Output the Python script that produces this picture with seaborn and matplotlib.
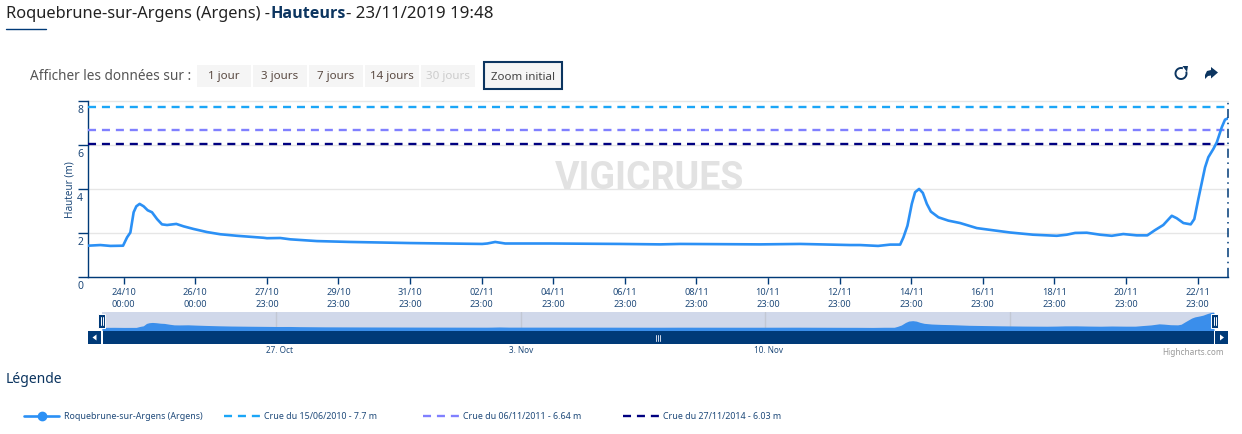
import pandas as pd
import matplotlib
matplotlib.use("Agg")
import matplotlib.pyplot as plt
import matplotlib.transforms as mtrans
from matplotlib.patches import Rectangle, Polygon, Arc
import seaborn as sns

W, H = 1242, 435

# heures depuis le 24/10 00:00 / hauteur en m
hours = [-23.9, -15.6, -8.9, -0.4, 2.3, 4.5, 6.7, 8.5, 10.7, 13.4, 16.1, 19, 22.4, 25.7, 29.1, 35.3,
         40.2, 46.9, 55.9, 64.8, 76, 93.8, 96.1, 105, 111.7, 129.6, 152, 192.2, 240.4, 243.8, 249.1,
         255.8, 286, 332.9, 359.7, 373.1, 426.7, 453.6, 487.1, 493.7, 505.8, 513.9, 520.6, 522.8,
         525.5, 528.4, 530.6, 533.3, 535.8, 538.5, 541.2, 546.3, 552.9, 560.8, 572, 583.1, 594.3,
         609.7, 625.6, 632.3, 637.9, 645.7, 654.6, 662.5, 670.2, 679.2, 686.3, 691.5, 697, 702.7,
         706, 710.5, 715.4, 717.8, 720.5, 725, 727.2, 730.6, 732.9, 736.2, 738.4, 740.4]
heights = [1.40, 1.43, 1.39, 1.40, 1.78, 2.00, 2.92, 3.19, 3.30, 3.19, 3.01, 2.92, 2.61, 2.37, 2.34, 2.39,
           2.28, 2.16, 2.02, 1.92, 1.85, 1.76, 1.74, 1.75, 1.69, 1.61, 1.57, 1.52, 1.48, 1.50, 1.57,
           1.50, 1.50, 1.48, 1.46, 1.48, 1.46, 1.48, 1.43, 1.43, 1.39, 1.45, 1.45, 1.78,
           2.31, 3.30, 3.83, 3.98, 3.80, 3.30, 2.95, 2.69, 2.54, 2.43, 2.20, 2.10, 2.00,
           1.90, 1.85, 1.90, 1.98, 1.99, 1.90, 1.85, 1.93, 1.87, 1.87, 2.11, 2.34, 2.76,
           2.65, 2.43, 2.37, 2.61, 3.52, 4.96, 5.42, 5.80, 6.10, 6.78, 7.13, 7.19]

crue_labels = ["Crue du 15/06/2010 - 7.7 m", "Crue du 06/11/2011 - 6.64 m", "Crue du 27/11/2014 - 6.03 m"]
crue_values = [7.7, 6.64, 6.03]
crue_colors = ["#1ba6f7", "#8080ff", "#000080"]

tick_labels = ["24/10\n00:00", "26/10\n00:00", "27/10\n23:00", "29/10\n23:00", "31/10\n23:00", "02/11\n23:00",
               "04/11\n23:00", "06/11\n23:00", "08/11\n23:00", "10/11\n23:00", "12/11\n23:00", "14/11\n23:00",
               "16/11\n23:00", "18/11\n23:00", "20/11\n23:00", "22/11\n23:00"]
nav_ticks = ["2019-10-28", "2019-11-04", "2019-11-11", "2019-11-18"]
nav_labels = ["27. Oct", "3. Nov", "10. Nov", ""]
buttons = ["1 jour", "3 jours", "7 jours", "14 jours", "30 jours"]

NAVY = "#003a78"
TEXT = "#1f4a7a"
BLUE = "#2b90f5"

sns.set_theme(style="white")
plt.rcParams['font.family'] = ['Noto Sans', 'DejaVu Sans']


def box(left, top, right, bottom):
    return [left / W, 1 - bottom / H, (right - left) / W, (bottom - top) / H]


origin = pd.Timestamp("2019-10-24")
df = pd.DataFrame({"time": origin + pd.to_timedelta(hours, unit="h"), "hauteur": heights})

fig = plt.figure(figsize=(W / 100, H / 100), dpi=100)
ax = fig.add_axes(box(88, 101.5, 1228, 277.5))
nav = fig.add_axes(box(102, 313, 1214, 331))
over = fig.add_axes([0, 0, 1, 1], zorder=5)
over.set_xlim(0, W)
over.set_ylim(H, 0)
over.axis("off")

# graphique principal
for value, color in zip(crue_values, crue_colors):
    ax.axhline(value, color=color, lw=1.7, dashes=(3.4, 2.5), zorder=3)
sns.lineplot(data=df, x="time", y="hauteur", color=BLUE, lw=1.9, estimator=None, ax=ax, zorder=4)
ax.set_xlim(df["time"].iloc[0], df["time"].iloc[-1])
ax.set_ylim(0, 8)
ax.set_yticks([0, 2, 4, 6, 8])
ax.set_xticks(pd.date_range(origin, periods=len(tick_labels), freq="48h"))
ax.set_xticklabels(tick_labels, fontsize=6.6, color=TEXT, linespacing=1.45)
ax.grid(axis="y", color="#e6e6e6", lw=1)
for g in ax.get_ygridlines():
    g.set_clip_on(False)
ax.tick_params(axis="x", length=5, width=1, color=NAVY, pad=2.5, bottom=True)
ax.tick_params(axis="y", length=7, width=1, color=NAVY, labelsize=7.5, labelcolor=TEXT, pad=-3.4, left=True)
shift = mtrans.ScaledTranslation(0, -2.5 / 72, fig.dpi_scale_trans)
for lab in ax.get_yticklabels():
    lab.set_va("top")
    lab.set_transform(lab.get_transform() + shift)
ax.set_xlabel("")
ax.set_ylabel("")
for side in ["top", "right"]:
    ax.spines[side].set_visible(False)
for side in ["left", "bottom"]:
    ax.spines[side].set_color(NAVY)
    ax.spines[side].set_linewidth(1)
ax.axvline(df["time"].iloc[-1], color=NAVY, lw=1.1, ls=(0, (6, 3, 1, 3)), clip_on=False, zorder=5)
ax.text(0.493, 0.56, "VIGICRUES", transform=ax.transAxes, ha="center", va="center", fontsize=27,
        fontweight="bold", color="#e2e2e2", family="Roboto", zorder=1)
over.text(70, 190, "Hauteur (m)", rotation=90, ha="center", va="center", fontsize=7.2, color=TEXT)

# navigateur
nav.set_facecolor("#d0d8ea")
nav.fill_between(df["time"], df["hauteur"], 0, color="#3a8eeb", lw=0)
nav.set_xlim(df["time"].iloc[0], df["time"].iloc[-1])
nav.set_ylim(0.4, 7.3)
nav.set_yticks([])
nav.set_xticks(pd.to_datetime(nav_ticks))
nav.set_xticklabels([])
nav.tick_params(axis="x", length=0)
nav.grid(axis="x", color="#c2c8d4", lw=1)
nav.set_ylabel("")
for s in nav.spines.values():
    s.set_visible(False)
for x, lab in zip([280, 521, 768, 1010], nav_labels):
    over.text(x, 351, lab, ha="center", va="center", fontsize=5.9, color=TEXT)

# barre de defilement
over.add_patch(Rectangle((102.5, 332), 1111.5, 13, color=NAVY, lw=0))
over.add_patch(Rectangle((88, 332), 13.3, 13, color=NAVY, lw=0))
over.add_patch(Rectangle((1215, 332), 13, 13, color=NAVY, lw=0))
over.add_patch(Polygon([(96.5, 335.5), (96.5, 341.5), (92.5, 338.5)], color="white", lw=0))
over.add_patch(Polygon([(1220, 335.5), (1220, 341.5), (1224, 338.5)], color="white", lw=0))
for x in [656, 658, 660]:
    over.plot([x, x], [335.5, 341.5], color="#d0d8ea", lw=0.7)
for x in [98, 1211]:
    over.add_patch(Rectangle((x, 315), 7, 14, facecolor=NAVY, edgecolor="white", lw=0.7, zorder=6))
    for dx in [2.5, 4.5]:
        over.plot([x + dx, x + dx], [318, 326], color="white", lw=0.7, zorder=7)
over.text(1224, 352.5, "Highcharts.com", ha="right", va="center", fontsize=5.9, color="#999999")

# titre
over.text(6, 14, "Roquebrune-sur-Argens (Argens) -", va="center", fontsize=11.8, color="#222222")
over.text(271, 14, "Hauteurs", va="center", fontsize=11.6, fontweight="bold", family="Open Sans", color="#0c3560")
over.text(346, 14, "- 23/11/2019 19:48", va="center", fontsize=12.2, color="#222222")
over.plot([6, 46], [29.5, 29.5], color=NAVY, lw=1)

# boutons
over.text(30, 76.5, "Afficher les données sur :", va="center", fontsize=9.8, color="#555555")
for i, lab in enumerate(buttons):
    left = 197 + i * 56
    over.add_patch(Rectangle((left, 66), 54, 22, color="#f5f5f5", lw=0))
    over.text(left + 27, 77, lab, ha="center", va="center", fontsize=8.3,
              color="#cccccc" if i == 4 else "#5a4a42")
over.add_patch(Rectangle((484, 63), 78, 27, facecolor="#f5f5f5", edgecolor="#0c3560", lw=1.5))
over.text(523, 77, "Zoom initial", ha="center", va="center", fontsize=8.3, color="#444444")

# icones
over.add_patch(Arc((1181, 74.5), 11, 11, theta1=-20, theta2=290, color="#0c3560", lw=1.4))
over.add_patch(Polygon([(1182.5, 67), (1188, 67), (1187, 73)], color="#0c3560", lw=0))
over.add_patch(Polygon([(1218, 73.5), (1211, 68), (1211, 71), (1207, 72), (1205, 76), (1205, 80), (1208, 77),
                        (1211, 76.5), (1211, 79.5)], color="#0c3560", lw=0))

# legende
over.text(6, 380, "Légende", va="center", fontsize=10, color="#0c3560")
over.plot([24, 59], [417, 417], color=BLUE, lw=1.9)
over.plot([41.5], [417], color=BLUE, marker="o", ms=6, lw=0)
over.text(64, 417, "Roquebrune-sur-Argens (Argens)", va="center", fontsize=6.4, color=TEXT)
for x0, lab, color in zip([224, 423, 623], crue_labels, crue_colors):
    over.plot([x0, x0 + 36], [417, 417], color=color, lw=1.7, dashes=(3.4, 2.5))
    over.text(x0 + 40, 417, lab, va="center", fontsize=6.4, color=TEXT)

fig.savefig("out.png", dpi=100)
